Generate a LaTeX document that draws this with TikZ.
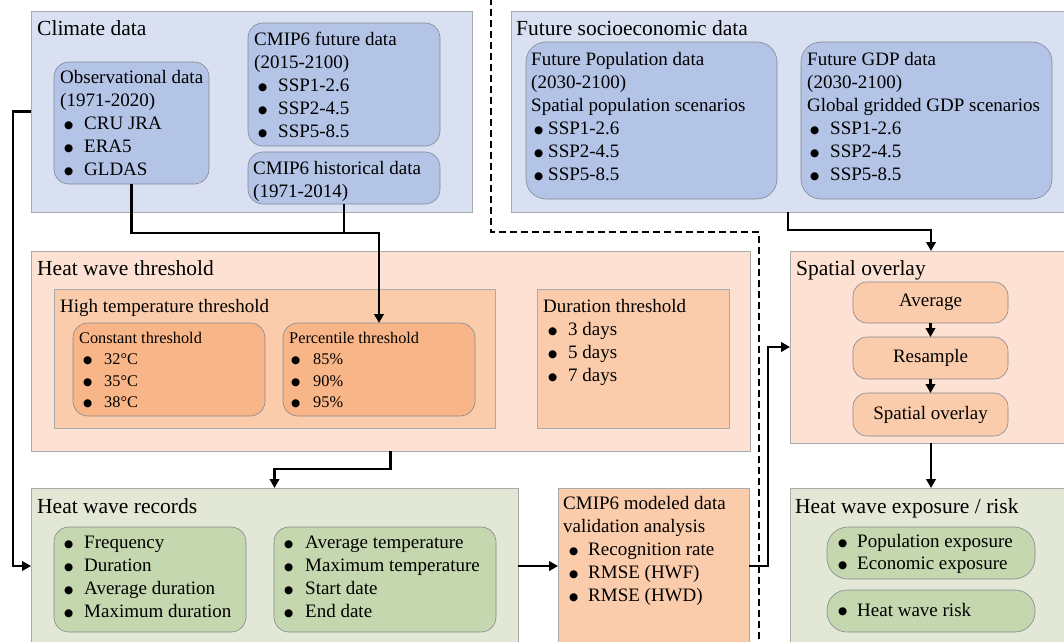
\documentclass[tikz,border=0pt]{standalone}
\usepackage{fontspec}
\setmainfont{Liberation Serif}
\newfontfamily\dejavu{DejaVu Sans}
\usetikzlibrary{arrows.meta,calc}
\definecolor{blueO}{RGB}{217,224,241}
\definecolor{blueI}{RGB}{180,196,230}
\definecolor{orO}{RGB}{253,226,211}
\definecolor{orM}{RGB}{251,204,171}
\definecolor{orI}{RGB}{248,181,136}
\definecolor{grO}{RGB}{226,231,214}
\definecolor{grI}{RGB}{196,215,174}
\definecolor{frameC}{RGB}{170,170,170}
\definecolor{rboxC}{RGB}{130,135,145}
\newcommand{\bigbul}{\raisebox{1.1pt}{\fontsize{10.5}{12}\dejavu ●}}
\newcommand{\bi}[3]{\strut\hspace*{#1}\makebox[#2][l]{\bigbul}#3}
\tikzset{
  frame/.style={rectangle, draw=frameC, line width=0.6pt, anchor=north west, inner sep=0pt, outer sep=0pt},
  rbox/.style={frame, draw=rboxC, rounded corners=#1},
  rbox/.default=15pt,
  conn/.style={line width=2.6pt, -{Triangle[length=9pt,width=9.5pt]}},
  link/.style={line width=2.6pt},
  txt/.style={anchor=north west, inner sep=0pt, align=left, font=\fontsize{19}{23}\selectfont},
  stxt/.style={anchor=north west, inner sep=0pt, align=left, font=\fontsize{16.3}{21.5}\selectfont},
  ttl/.style={anchor=base west, inner sep=0pt, font=\fontsize{21.5}{26}\selectfont},
  htl/.style={anchor=base west, inner sep=0pt, font=\fontsize{19}{23}\selectfont},
  dashline/.style={line width=1.7pt, dash pattern=on 7pt off 4pt},
}
\begin{document}
\begin{tikzpicture}[x=1pt,y=-1pt]
\clip (0,0) rectangle (1064,641);
% ---------- Climate data ----------
\node[frame, fill=blueO, minimum width=441pt, minimum height=201pt] (climate) at (31,11) {};
\node[ttl] (tclimate) at (37,35) {Climate data};
\node[rbox, fill=blueI, minimum width=155pt, minimum height=122pt] (obs) at (54,62) {};
\node[txt] (tobs) at (60,66.9) {\strut Observational data\\\strut (1971-2020)\\\bi{4pt}{20pt}{CRU JRA}\\\bi{4pt}{20pt}{ERA5}\\\bi{4pt}{20pt}{GLDAS}};
\node[rbox, fill=blueI, minimum width=192pt, minimum height=123pt] (fut) at (248,23) {};
\node[txt] (tfut) at (254,28.9) {\strut CMIP6 future data\\\strut (2015-2100)\\\bi{4pt}{20pt}{SSP1-2.6}\\\bi{4pt}{20pt}{SSP2-4.5}\\\bi{4pt}{20pt}{SSP5-8.5}};
\node[rbox, fill=blueI, minimum width=192pt, minimum height=52pt] (hist) at (248,152) {};
\node[txt] (thist) at (253,157.9) {\strut CMIP6 historical data\\\strut (1971-2014)};
% ---------- Socioeconomic ----------
\node[frame, fill=blueO, minimum width=570pt, minimum height=201pt] (socio) at (511,11) {};
\node[ttl] (tsocio) at (516,35) {Future socioeconomic data};
\node[rbox=20pt, fill=blueI, minimum width=251pt, minimum height=157pt] (pop) at (526,42) {};
\node[txt] (tpop) at (531,48.9) {\strut Future Population data\\\strut (2030-2100)\\\strut Spatial population scenarios\\\bi{3pt}{14pt}{SSP1-2.6}\\\bi{3pt}{14pt}{SSP2-4.5}\\\bi{3pt}{14pt}{SSP5-8.5}};
\node[rbox=20pt, fill=blueI, minimum width=251pt, minimum height=157pt] (gdp) at (801,42) {};
\node[txt] (tgdp) at (807,48.9) {\strut Future GDP data\\\strut (2030-2100)\\\strut Global gridded GDP scenarios\\\bi{3pt}{20pt}{SSP1-2.6}\\\bi{3pt}{20pt}{SSP2-4.5}\\\bi{3pt}{20pt}{SSP5-8.5}};
% ---------- Heat wave threshold ----------
\node[frame, fill=orO, minimum width=719pt, minimum height=200pt] (thr) at (31,251) {};
\node[ttl] (tthr) at (37,275) {Heat wave threshold};
\node[frame, fill=orM, minimum width=441pt, minimum height=139pt] (high) at (54,289) {};
\node[htl] (thigh) at (60,312) {High temperature threshold};
\node[rbox, fill=orI, minimum width=192pt, minimum height=93pt] (const) at (73,323) {};
\node[stxt] (tconst) at (79,328) {\strut Constant threshold\\\bi{4pt}{21pt}{32°C}\\\bi{4pt}{21pt}{35°C}\\\bi{4pt}{21pt}{38°C}};
\node[rbox, fill=orI, minimum width=192pt, minimum height=93pt] (perc) at (283,323) {};
\node[stxt] (tperc) at (289,328) {\strut Percentile threshold\\\bi{2pt}{22pt}{85\%}\\\bi{2pt}{22pt}{90\%}\\\bi{2pt}{22pt}{95\%}};
\node[frame, fill=orM, minimum width=192pt, minimum height=139pt] (dur) at (537,289) {};
\node[txt] (tdur) at (543,295.9) {\strut Duration threshold\\\bi{5pt}{20pt}{3 days}\\\bi{5pt}{20pt}{5 days}\\\bi{5pt}{20pt}{7 days}};
% ---------- Spatial overlay ----------
\node[frame, fill=orO, minimum width=282pt, minimum height=192pt] (spat) at (790,251) {};
\node[ttl] (tspat) at (796,275) {Spatial overlay};
\node[rbox=14pt, fill=orM, minimum width=155pt, minimum height=41pt, font=\fontsize{19}{23}\selectfont] (avg) at (853,282) {Average};
\node[rbox=14pt, fill=orM, minimum width=155pt, minimum height=42pt, font=\fontsize{19}{23}\selectfont] (res) at (853,337) {Resample};
\node[rbox=14pt, fill=orM, minimum width=155pt, minimum height=43pt, font=\fontsize{19}{23}\selectfont] (sov) at (853,393) {Spatial overlay};
% ---------- Heat wave records ----------
\node[frame, fill=grO, minimum width=487pt, minimum height=156pt] (rec) at (31,488) {};
\node[ttl] (trec) at (37,513) {Heat wave records};
\node[rbox, fill=grI, minimum width=192pt, minimum height=105pt] (r1) at (54,527) {};
\node[txt] (tr1) at (60,531.9) {\bi{4pt}{20pt}{Frequency}\\\bi{4pt}{20pt}{Duration}\\\bi{4pt}{20pt}{Average duration}\\\bi{4pt}{20pt}{Maximum duration}};
\node[rbox, fill=grI, minimum width=222pt, minimum height=105pt] (r2) at (274,527) {};
\node[txt] (tr2) at (280,531.9) {\bi{4pt}{21pt}{Average temperature}\\\bi{4pt}{21pt}{Maximum temperature}\\\bi{4pt}{21pt}{Start date}\\\bi{4pt}{21pt}{End date}};
% ---------- Validation ----------
\node[frame, fill=orM, minimum width=191pt, minimum height=156pt] (val) at (558,488) {};
\node[txt] (tval) at (563,493.4) {\strut CMIP6 modeled data\\\strut validation analysis\\\bi{6pt}{19pt}{Recognition rate}\\\bi{6pt}{19pt}{RMSE (HWF)}\\\bi{6pt}{19pt}{RMSE (HWD)}};
% ---------- Exposure ----------
\node[frame, fill=grO, minimum width=282pt, minimum height=160pt] (expo) at (790,488) {};
\node[ttl] (texpo) at (795,513) {Heat wave exposure / risk};
\node[rbox=21pt, fill=grI, minimum width=208pt, minimum height=52pt] (pe) at (827,527) {};
\node[txt, font=\fontsize{19}{22}\selectfont] (tpe) at (832,531.6) {\bi{6pt}{19pt}{Population exposure}\\\bi{6pt}{19pt}{Economic exposure}};
\node[rbox=20pt, fill=grI, minimum width=208pt, minimum height=42pt] (risk) at (827,590) {};
\node[htl] (trisk) at (832,616) {\bi{6pt}{19pt}{Heat wave risk}};
% ---------- Dashed separator ----------
\coordinate (d1) at (491,-2);
\coordinate (d2) at (491,232);
\coordinate (d3) at (759,232);
\coordinate (d4) at (759,645);
\draw[dashline] (d1) -- (d2) -- (d3) -- (d4);
% ---------- Connectors ----------
\coordinate (j1) at (379,233);
\draw[conn] (obs.south) |- (j1) -- (perc.north);
\draw[link] (hist.south) -- (hist.south |- j1);
\draw[conn] (climate.west) -- ++(-18,0) |- (rec.west);
\draw[conn] (thr.south) -- ++(0,18) -| (rec.north);
\draw[conn] (rec.east) -- (val.west);
\draw[conn] (val.east) -- ++(19,0) |- (spat.west);
\draw[conn] ($(socio.south west)+(277,0)$) -- ++(0,18) -| (spat.north);
\draw[conn] (avg.south) -- (res.north);
\draw[conn] (res.south) -- (sov.north);
\draw[conn] (spat.south) -- (expo.north);
\end{tikzpicture}
\end{document}
